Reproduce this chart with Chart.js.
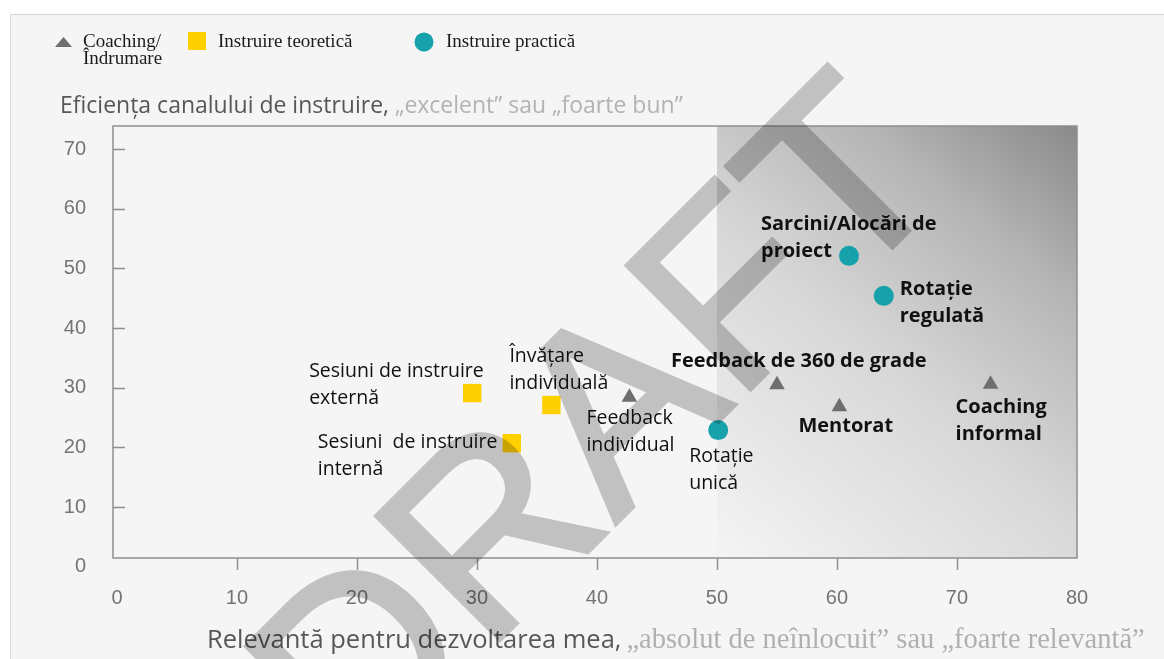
<!DOCTYPE html>
<html>
<head>
<meta charset="utf-8">
<script src="https://cdn.jsdelivr.net/npm/chart.js@4"></script>
<style>
  html, body { margin: 0; padding: 0; background: #ffffff; }
  #wrap { position: relative; width: 1164px; height: 659px; }
</style>
</head>
<body>
<div id="wrap"><canvas id="chart" width="1164" height="659"></canvas></div>
<script>
(function() {
    // Coaching / Îndrumare (triangles)
    const coachingNames = ['Feedback\nindividual', 'Feedback de 360 de grade', 'Mentorat', 'Coaching\ninformal'];
    const coachingX = [42.7, 55.0, 60.2, 72.8];
    const coachingY = [28.4, 30.5, 26.8, 30.6];

    // Instruire teoretică (squares)
    const theoryNames = ['Sesiuni de instruire\nexternă', 'Învățare\nindividuală', 'Sesiuni  de instruire\ninternă'];
    const theoryX = [29.6, 36.2, 32.9];
    const theoryY = [29.1, 27.1, 20.7];

    // Instruire practică (circles)
    const practiceNames = ['Rotație\nunică', 'Sarcini/Alocări de\nproiect', 'Rotație\nregulată'];
    const practiceX = [50.1, 61.0, 63.9];
    const practiceY = [22.9, 52.1, 45.4];

    const seriesLabels = ['Coaching/\nÎndrumare', 'Instruire teoretică', 'Instruire practică'];
    const xTicks = [0, 10, 20, 30, 40, 50, 60, 70, 80];
    const yTicks = [0, 10, 20, 30, 40, 50, 60, 70];
    const SHADE_FROM = 50;

    const yTitle = 'Eficiența canalului de instruire,';
    const yTitleNote = ' „excelent” sau „foarte bun”';
    const xTitle = 'Relevantă pentru dezvoltarea mea,';
    const xTitleNote = '„absolut de neînlocuit” sau „foarte relevantă”';

    const TRI = '#6e6e6e';
    const YEL = '#ffd000';
    const TEAL = '#17a2ab';
    const AXIS = '#8f8f8f';

    // where each point label sits relative to its marker
    const labelPlace = {
        'Feedback\nindividual': { dx: -43, dy: 27 },
        'Feedback de 360 de grade': { dx: -106, dy: -18, bold: true },
        'Mentorat': { dx: -41, dy: 25, bold: true },
        'Coaching\ninformal': { dx: -35, dy: 29, bold: true },
        'Sesiuni de instruire\nexternă': { dx: -163, dy: -16 },
        'Învățare\nindividuală': { dx: -42, dy: -43 },
        'Sesiuni  de instruire\ninternă': { dx: -194, dy: 5 },
        'Rotație\nunică': { dx: -29, dy: 32 },
        'Sarcini/Alocări de\nproiect': { dx: -88, dy: -26, bold: true },
        'Rotație\nregulată': { dx: 16, dy: -1, bold: true }
    };

    function toPoints(xs, ys) {
        return xs.map((x, i) => ({ x: x, y: ys[i] }));
    }

    const backdrop = {
        id: 'backdrop',
        beforeDraw(chart) {
            const ctx = chart.ctx;
            const area = chart.chartArea;
            const xs = chart.scales.x;
            ctx.save();
            ctx.fillStyle = '#ffffff';
            ctx.fillRect(0, 0, chart.width, chart.height);
            ctx.fillStyle = '#f5f5f5';
            ctx.fillRect(10, 14, chart.width - 10, chart.height - 14);
            ctx.strokeStyle = '#d6d6d6';
            ctx.lineWidth = 1;
            ctx.beginPath();
            ctx.moveTo(10.5, chart.height);
            ctx.lineTo(10.5, 14.5);
            ctx.lineTo(chart.width, 14.5);
            ctx.stroke();

            // shaded zone on the right
            const left = xs.getPixelForValue(SHADE_FROM);
            const g = ctx.createLinearGradient(left, area.bottom, area.right, area.top);
            g.addColorStop(0, '#f4f4f4');
            g.addColorStop(0.45, '#d8d8d8');
            g.addColorStop(0.75, '#b6b6b6');
            g.addColorStop(1, '#8a8a8a');
            ctx.fillStyle = g;
            ctx.fillRect(left, area.top, area.right - left, area.bottom - area.top);
            ctx.restore();
        },
        beforeDatasetsDraw(chart) {
            const ctx = chart.ctx;
            const area = chart.chartArea;
            const xs = chart.scales.x;
            const ys = chart.scales.y;
            ctx.save();
            ctx.strokeStyle = AXIS;
            ctx.lineWidth = 1.5;
            ctx.strokeRect(area.left, area.top, area.right - area.left, area.bottom - area.top);
            ctx.beginPath();
            xTicks.forEach(v => {
                if (v <= 0 || v >= 80) return;
                const px = Math.round(xs.getPixelForValue(v)) + 0.5;
                ctx.moveTo(px, area.bottom);
                ctx.lineTo(px, area.bottom + 12);
            });
            yTicks.forEach(v => {
                if (v <= 0) return;
                const py = Math.round(ys.getPixelForValue(v)) + 0.5;
                ctx.moveTo(area.left, py);
                ctx.lineTo(area.left + 12, py);
            });
            ctx.stroke();
            ctx.restore();
        },
        afterDatasetsDraw(chart) {
            const ctx = chart.ctx;
            ctx.save();
            ctx.fillStyle = '#111111';
            ctx.textBaseline = 'alphabetic';
            chart.data.datasets.forEach((ds, di) => {
                const meta = chart.getDatasetMeta(di);
                ds.names.forEach((name, i) => {
                    const el = meta.data[i];
                    const p = labelPlace[name];
                    ctx.font = p.bold ? 'bold 20px "Open Sans"' : '19.5px "Open Sans"';
                    name.split('\n').forEach((line, li) => {
                        ctx.fillText(line, el.x + p.dx, el.y + p.dy + li * 27);
                    });
                });
            });

            // legend
            ctx.font = '19px "Liberation Serif"';
            const lg = chart.data.datasets;
            ctx.fillStyle = lg[0].backgroundColor;
            ctx.beginPath();
            ctx.moveTo(55, 47);
            ctx.lineTo(72, 47);
            ctx.lineTo(63.5, 37);
            ctx.closePath();
            ctx.fill();
            ctx.fillStyle = lg[1].backgroundColor;
            ctx.fillRect(188, 32, 18, 18);
            ctx.fillStyle = lg[2].backgroundColor;
            ctx.beginPath();
            ctx.arc(424, 42, 9.5, 0, Math.PI * 2);
            ctx.fill();
            ctx.fillStyle = '#1a1a1a';
            const lx = [83, 218, 446];
            lg.forEach((ds, i) => {
                ds.label.split('\n').forEach((line, li) => {
                    ctx.fillText(line, lx[i], 47 + li * 17);
                });
            });

            // axis titles
            ctx.font = '23px "Open Sans"';
            ctx.fillStyle = '#575757';
            ctx.fillText(yTitle, 60, 113);
            let w = ctx.measureText(yTitle).width;
            ctx.fillStyle = '#b3b3b3';
            ctx.fillText(yTitleNote, 60 + w, 113);

            ctx.font = '25.5px "Open Sans"';
            ctx.fillStyle = '#575757';
            ctx.fillText(xTitle, 207, 648);
            w = ctx.measureText(xTitle).width;
            ctx.font = '28.5px "Liberation Serif"';
            ctx.fillStyle = '#b0b0b0';
            ctx.fillText(xTitleNote, 207 + w + 5, 648);

            // watermark, drawn apart then multiplied on top
            const wm = document.createElement('canvas');
            wm.width = chart.width;
            wm.height = chart.height;
            const wc = wm.getContext('2d');
            wc.fillStyle = '#c9c9c9';
            wc.strokeStyle = '#c9c9c9';
            wc.lineWidth = 4;
            wc.font = '255px "Liberation Sans"';
            wc.translate(355, 785);
            wc.rotate(-Math.PI / 4);
            wc.fillText('DRAFT', 0, 0);
            wc.strokeText('DRAFT', 0, 0);
            ctx.globalCompositeOperation = 'multiply';
            ctx.drawImage(wm, 0, 0);
            ctx.restore();
        }
    };

    const ctx = document.getElementById('chart').getContext('2d');
    new Chart(ctx, {
        type: 'scatter',
        data: {
            datasets: [{
                label: seriesLabels[0],
                names: coachingNames,
                data: toPoints(coachingX, coachingY),
                pointStyle: 'triangle',
                pointRadius: 9,
                backgroundColor: TRI,
                borderWidth: 0
            }, {
                label: seriesLabels[1],
                names: theoryNames,
                data: toPoints(theoryX, theoryY),
                pointStyle: 'rect',
                pointRadius: 13,
                backgroundColor: YEL,
                borderWidth: 0
            }, {
                label: seriesLabels[2],
                names: practiceNames,
                data: toPoints(practiceX, practiceY),
                pointStyle: 'circle',
                pointRadius: 10,
                backgroundColor: TEAL,
                borderWidth: 0
            }]
        },
        options: {
            responsive: false,
            animation: false,
            layout: { padding: { top: 126, right: 87, left: 0, bottom: 0 } },
            plugins: {
                legend: { display: false },
                tooltip: { enabled: false }
            },
            scales: {
                x: {
                    type: 'linear',
                    min: -0.33,
                    max: 80,
                    afterBuildTicks: axis => { axis.ticks = xTicks.map(v => ({ value: v })); },
                    afterFit: axis => { axis.height = 101; },
                    grid: { display: false, drawTicks: false },
                    border: { display: false },
                    ticks: {
                        autoSkip: false,
                        maxRotation: 0,
                        padding: 28,
                        color: '#747474',
                        font: { family: '"Liberation Sans"', size: 20 }
                    }
                },
                y: {
                    type: 'linear',
                    min: 1.46,
                    max: 73.86,
                    afterBuildTicks: axis => { axis.ticks = yTicks.map(v => ({ value: v })); },
                    afterFit: axis => { axis.width = 113; },
                    grid: { display: false, drawTicks: false },
                    border: { display: false },
                    ticks: {
                        autoSkip: false,
                        padding: 27,
                        color: '#747474',
                        font: { family: '"Liberation Sans"', size: 20 }
                    }
                }
            }
        },
        plugins: [backdrop]
    });
})();
</script>
</body>
</html>
